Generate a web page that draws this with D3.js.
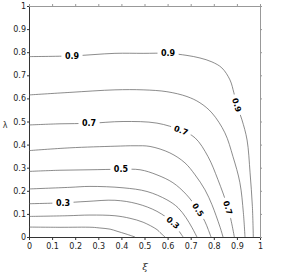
<!DOCTYPE html>
<html><head><meta charset="utf-8">
<script src="https://cdn.jsdelivr.net/npm/d3@7"></script>
<style>body{margin:0;background:#fff}</style>
</head><body>
<svg id="c" width="299" height="273"></svg>
<script>
const tickValues = [0,0.1,0.2,0.3,0.4,0.5,0.6,0.7,0.8,0.9,1];
const levels = [0.1,0.2,0.3,0.4,0.5,0.6,0.7,0.8,0.9];
const c01 = [[0,0.043],[0.134,0.042],[0.273,0.042],[0.307,0.039],[0.351,0.034],[0.381,0.025],[0.420,0.013],[0.459,0]];
const c02 = [[0,0.089],[0.165,0.092],[0.264,0.095],[0.372,0.092],[0.437,0.081],[0.494,0.064],[0.554,0.032],[0.571,0.016],[0.589,0]];
const c03 = [[0,0.144],[0.147,0.148],[0.251,0.154],[0.372,0.159],[0.468,0.144],[0.554,0.111],[0.623,0.062],[0.645,0.032],[0.667,0]];
const c04 = [[0,0.208],[0.177,0.215],[0.264,0.219],[0.407,0.213],[0.511,0.197],[0.597,0.161],[0.645,0.127],[0.680,0.083],[0.706,0.040],[0.727,0]];
const c05 = [[0,0.284],[0.134,0.289],[0.264,0.291],[0.398,0.293],[0.481,0.291],[0.554,0.269],[0.623,0.235],[0.680,0.185],[0.732,0.118],[0.762,0.066],[0.776,0.032],[0.788,0]];
const c06 = [[0,0.374],[0.177,0.386],[0.372,0.393],[0.459,0.395],[0.524,0.392],[0.610,0.364],[0.675,0.321],[0.719,0.269],[0.762,0.204],[0.792,0.140],[0.810,0.092],[0.828,0.040],[0.840,0]];
const c07 = [[0,0.485],[0.134,0.490],[0.260,0.492],[0.407,0.500],[0.554,0.493],[0.658,0.462],[0.719,0.429],[0.775,0.348],[0.818,0.248],[0.861,0.127],[0.876,0.066],[0.889,0]];
const c08 = [[0,0.615],[0.177,0.626],[0.372,0.637],[0.494,0.637],[0.597,0.629],[0.684,0.608],[0.740,0.581],[0.792,0.537],[0.848,0.451],[0.883,0.348],[0.913,0.235],[0.928,0.105],[0.935,0]];
const c09 = [[0,0.781],[0.186,0.784],[0.372,0.795],[0.494,0.795],[0.602,0.795],[0.684,0.786],[0.740,0.775],[0.792,0.758],[0.835,0.732],[0.870,0.680],[0.887,0.624],[0.900,0.572],[0.922,0.507],[0.944,0.420],[0.957,0.278],[0.967,0.132],[0.971,0]];
const contours = [c01,c02,c03,c04,c05,c06,c07,c08,c09];
// labelled contours: level and the index of the curve point where the label sits
const labelLevel = [0.9,0.9,0.9,0.7,0.7,0.7,0.5,0.5,0.3,0.3];
const labelPoint = [1,4,11,2,5,9,3,8,1,6];

const svg = d3.select("#c");
const x = d3.scaleLinear().domain([0,1]).range([29,260]);
const y = d3.scaleLinear().domain([0,1]).range([237,6]);

const fmt = d => String(+d.toFixed(1));
const gL = svg.append("g").attr("transform","translate(29,0)")
  .call(d3.axisLeft(y).tickValues(tickValues).tickFormat(fmt).tickSize(2).tickSizeOuter(0).tickPadding(1));
const gB = svg.append("g").attr("transform","translate(0,237)")
  .call(d3.axisBottom(x).tickValues(tickValues).tickFormat(fmt).tickSize(3).tickSizeOuter(0).tickPadding(3));
const gT = svg.append("g").attr("transform","translate(0,6)")
  .call(d3.axisTop(x).tickValues(tickValues).tickFormat("").tickSize(2).tickSizeOuter(0));
const gR = svg.append("g").attr("transform","translate(260,0)")
  .call(d3.axisRight(y).tickValues(tickValues).tickFormat("").tickSize(2).tickSizeOuter(0));
[gL,gB].forEach(g=>{
  g.selectAll("path,line").attr("stroke","#333");
  g.selectAll("text").attr("font-family","DejaVu Sans").attr("font-size",8).attr("fill","#222");
});
[gT,gR].forEach(g=>{ g.selectAll("path,line").attr("stroke","#999"); });

const line = d3.line().x(d=>x(d[0])).y(d=>y(d[1])).curve(d3.curveCatmullRom);
svg.append("g").selectAll("path").data(contours).join("path")
  .attr("d", line).attr("fill","none").attr("stroke","#5a5a5a").attr("stroke-width",0.7);

labelLevel.forEach((lv,i)=>{
  const pts = contours[levels.indexOf(lv)];
  const k = labelPoint[i];
  const p = pts[k], a = pts[Math.max(0,k-1)], b = pts[Math.min(pts.length-1,k+1)];
  let ang = Math.atan2(y(b[1])-y(a[1]), x(b[0])-x(a[0]))*180/Math.PI;
  if (Math.abs(ang) < 6) ang = 0;
  const g = svg.append("g").attr("transform",`translate(${x(p[0])},${y(p[1])}) rotate(${ang})`);
  const t = g.append("text").text(fmt(lv)).attr("text-anchor","middle").attr("dy","0.36em")
    .attr("font-family","DejaVu Sans").attr("font-size",8).attr("font-weight","bold").attr("fill","#000");
  const w = t.node().getComputedTextLength();
  g.insert("rect","text").attr("x",-w/2-3.5).attr("y",-3).attr("width",w+7).attr("height",6).attr("fill","#fff");
});

svg.append("text").attr("x",5).attr("y",128).text("λ")
  .attr("font-family","DejaVu Sans").attr("font-size",8).attr("fill","#333").attr("text-anchor","middle");
svg.append("text").attr("x",145).attr("y",270).text("ξ")
  .attr("font-family","DejaVu Serif").attr("font-style","italic").attr("font-size",10).attr("fill","#333").attr("text-anchor","middle");
</script>
</body></html>
